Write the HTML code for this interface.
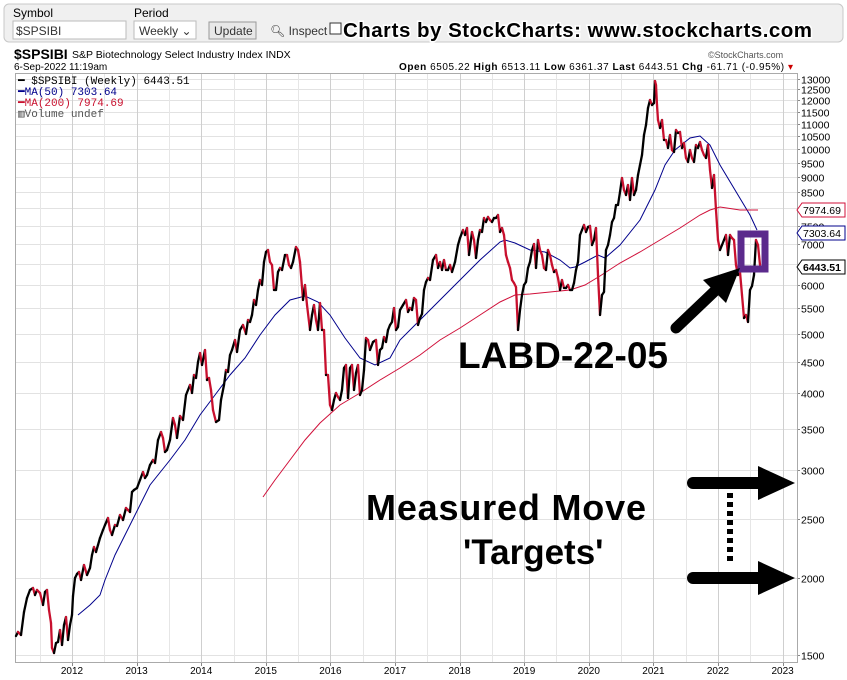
<!DOCTYPE html>
<html><head><meta charset="utf-8"><style>
body{margin:0;width:847px;height:680px;overflow:hidden;background:#fff;font-family:"Liberation Sans",sans-serif;}
svg{position:absolute;left:0;top:0}
</style></head><body>
<svg id="s" width="847" height="680" xmlns="http://www.w3.org/2000/svg" font-family="Liberation Sans, sans-serif">
<rect x="4" y="4" width="839" height="38" rx="5" fill="#f0f0f0" stroke="#c8c8c8"/>
<text x="13" y="17" font-size="12">Symbol</text>
<rect x="13" y="21" width="113" height="18" fill="#fff" stroke="#bbb"/>
<text x="16" y="35" font-size="12" fill="#333">$SPSIBI</text>
<text x="134" y="17" font-size="12">Period</text>
<rect x="134" y="21" width="62" height="18" fill="#fff" stroke="#bbb"/>
<text x="139" y="35" font-size="12" fill="#333">Weekly ⌄</text>
<rect x="209" y="22" width="47" height="17" fill="#e8e8e8" stroke="#999"/>
<text x="214" y="35" font-size="12" fill="#333">Update</text>
<text x="270" y="35" font-size="12" fill="#333">🔍︎ Inspect</text>
<rect x="330" y="23" width="11" height="11" fill="#fff" stroke="#333"/>
<text x="343" y="37" font-size="20.5" font-weight="bold" stroke="#fff" stroke-width="3" paint-order="stroke" textLength="469">Charts by StockCharts:  www.stockcharts.com</text>
<text x="14" y="59" font-size="14" font-weight="bold">$SPSIBI</text>
<text x="72" y="58" font-size="10.5">S&amp;P Biotechnology Select Industry Index  INDX</text>
<text x="14" y="70" font-size="10">6-Sep-2022 11:19am</text>
<text x="708" y="58" font-size="9" fill="#555">©StockCharts.com</text>
<text x="399" y="70" font-size="10" textLength="394"><tspan font-weight="bold">Open</tspan> 6505.22 <tspan font-weight="bold">High</tspan> 6513.11 <tspan font-weight="bold">Low</tspan> 6361.37 <tspan font-weight="bold">Last</tspan> 6443.51 <tspan font-weight="bold">Chg</tspan> -61.71 (-0.95%) <tspan fill="#c00">▾</tspan></text>
<g id="grid"></g>
<rect x="15.5" y="73.5" width="782" height="589" fill="none" stroke="#aaa"/>
<g id="series"></g>
<text x="18" y="84" font-size="11" font-family="Liberation Mono, monospace"><tspan font-weight="bold">━</tspan> $SPSIBI (Weekly) 6443.51</text>
<text x="18" y="95" font-size="11" fill="#00008b" font-family="Liberation Mono, monospace">━MA(50) 7303.64</text>
<text x="18" y="106" font-size="11" fill="#c8102e" font-family="Liberation Mono, monospace">━MA(200) 7974.69</text>
<text x="18" y="117" font-size="11" fill="#555" font-family="Liberation Mono, monospace">▥Volume undef</text>
<rect x="741" y="234" width="24" height="35" fill="none" stroke="#5b2a8c" stroke-width="7"/>
<line x1="676" y1="328" x2="718" y2="288" stroke="#000" stroke-width="11" stroke-linecap="round"/>
<polygon points="740,268 703,280 726,303" fill="#000"/>
<text x="458" y="368" font-size="37" font-weight="bold" textLength="210">LABD-22-05</text>
<text x="366" y="520" font-size="36" font-weight="bold" textLength="280">Measured Move</text>
<text x="463" y="564" font-size="35" font-weight="bold">'Targets'</text>
<line x1="693" y1="483" x2="760" y2="483" stroke="#000" stroke-width="12" stroke-linecap="round"/>
<polygon points="758,466 795,483 758,500" fill="#000"/>
<line x1="693" y1="578" x2="760" y2="578" stroke="#000" stroke-width="12" stroke-linecap="round"/>
<polygon points="758,561 795,578 758,595" fill="#000"/>
<line x1="730" y1="493" x2="730" y2="565" stroke="#000" stroke-width="6" stroke-dasharray="5,4"/>
<g id="tags"></g>
</svg>
<script>
var NS="http://www.w3.org/2000/svg",s=document.getElementById('s');
function Y(p){return 79+(4.1139-Math.log10(p))*614;}
function el(g,t,a,txt){var e=document.createElementNS(NS,t);for(var k in a)e.setAttribute(k,a[k]);if(txt!=null)e.textContent=txt;document.getElementById(g).appendChild(e);return e;}
var labs=[13000,12500,12000,11500,11000,10500,10000,9500,9000,8500,8000,7500,7000,6500,6000,5500,5000,4500,4000,3500,3000,2500,2000,1500];
labs.forEach(function(p){var y=Math.round(Y(p))+.5;el('grid','line',{x1:16,x2:797,y1:y,y2:y,stroke:'#e2e2e2'});
 el('grid','line',{x1:797,x2:800,y1:y,y2:y,stroke:'#888'});
 if(p!=8000&&p!=6500)el('grid','text',{x:801,y:y+4,'font-size':10.5},String(p));});
for(var i=-1;i<12;i++){var x=72+i*64.6;
 var h=Math.round(x+32.3)+.5;if(h>16&&h<797)el('grid','line',{x1:h,x2:h,y1:74,y2:662,stroke:'#e6e6e6'});
 var xx=Math.round(x)+.5;if(xx>16&&xx<797){el('grid','line',{x1:xx,x2:xx,y1:74,y2:662,stroke:'#cfcfcf'});}
 if(i>=0){el('grid','text',{x:x,y:674,'font-size':10,'text-anchor':'middle'},String(2012+i));el('grid','line',{x1:xx,x2:xx,y1:662,y2:666,stroke:'#888'});}}
var P=[16,636,18,632,21,635,24,612,27,598,30,590,33,588,35,595,37,590,40,593,43,605,45,592,47,590,49,610,51,623,52,648,54,653,56,643,58,642,60,630,62,645,64,625,66,617,68,640,70,625,72,615,73,596,75,578,77,574,79,572,81,580,84,565,87,575,90,568,92,555,94,547,96,552,98,545,100,538,103,530,105,525,108,518,110,530,112,535,115,525,117,526,120,515,123,520,126,508,128,510,130,512,132,492,134,490,137,488,140,480,143,472,145,478,147,475,150,465,153,460,155,463,158,440,161,432,163,438,165,452,167,450,170,440,173,418,175,425,177,438,180,416,183,420,186,395,190,385,192,393,194,375,196,378,198,362,200,353,202,365,205,350,207,380,209,378,211,390,213,410,216,422,219,420,221,400,224,385,226,370,228,372,230,355,232,350,235,340,237,352,240,330,243,325,246,334,248,320,250,322,252,315,254,300,256,305,258,290,260,280,262,285,264,262,266,252,268,250,270,262,272,265,274,290,276,290,278,272,280,268,282,270,285,255,287,255,289,265,291,268,293,262,296,247,298,250,300,262,303,300,305,285,307,305,310,330,312,315,314,305,316,320,318,330,320,303,322,330,324,330,326,375,328,375,330,405,332,410,334,400,336,393,338,397,340,400,342,390,344,368,346,365,348,398,350,368,352,365,354,390,356,373,358,365,360,395,362,390,364,370,366,338,368,340,370,350,373,342,376,340,378,365,380,350,382,348,384,337,386,342,388,330,390,325,392,322,394,308,396,330,398,327,400,310,403,305,406,300,408,312,410,308,412,310,414,298,416,300,418,325,420,318,422,314,424,290,426,282,428,278,430,280,433,260,436,255,438,268,440,262,442,270,444,260,446,270,448,270,450,265,452,272,455,262,458,245,460,238,463,230,465,235,467,228,469,255,472,232,474,240,476,258,478,240,480,230,482,232,484,218,486,222,488,217,490,220,492,222,494,218,496,218,498,215,500,232,502,228,504,235,506,255,508,262,510,268,512,280,514,283,516,287,518,330,520,310,522,295,524,285,526,282,528,268,530,262,532,250,534,244,536,268,538,240,540,250,542,255,544,268,546,270,548,250,550,255,552,265,554,272,556,270,558,278,560,290,562,280,564,288,566,288,568,285,570,290,572,290,574,283,576,270,578,262,580,235,582,230,584,225,586,232,588,227,590,226,592,245,594,240,596,228,598,275,600,315,602,295,604,292,606,250,608,245,610,235,612,222,614,218,616,205,618,205,620,192,622,178,624,190,626,195,628,185,630,200,632,178,634,195,636,190,638,175,640,165,642,155,644,135,646,125,648,108,650,100,652,105,654,103,655,81,656,85,657,105,658,120,660,128,662,120,664,140,666,140,668,148,670,135,672,150,674,152,676,130,678,133,680,132,682,148,684,143,686,158,688,162,690,150,692,158,694,162,696,145,698,148,700,142,702,150,704,155,706,158,708,145,710,170,712,188,714,175,716,210,718,240,720,250,722,245,724,240,726,235,728,255,730,235,732,238,734,240,736,265,738,275,740,272,742,295,744,318,746,315,748,322,750,290,752,286,754,275,756,240,758,245,760,265];
function poly(a,c,w){var pts=[];for(var i=0;i<a.length;i+=2)pts.push(a[i]+','+a[i+1]);el('series','polyline',{points:pts.join(' '),fill:'none',stroke:c,'stroke-width':w});}
poly([78,615,90,605,100,595,105,580,115,555,130,525,150,485,170,460,185,440,200,415,215,395,230,375,245,358,260,335,275,315,290,300,305,296,318,302,330,315,345,338,360,358,375,365,390,358,400,340,420,320,440,300,460,280,480,260,500,242,505,240,515,243,530,250,545,252,560,260,570,268,575,267,585,262,598,255,605,258,620,245,640,220,655,190,665,165,675,150,690,138,700,136,710,145,720,165,735,190,750,215,757,230],'#00008b',1);
poly([263,497,275,480,290,460,305,440,320,423,340,405,360,393,380,380,400,368,420,355,440,340,460,328,480,315,500,302,515,295,530,294,550,292,570,290,585,285,600,276,620,263,640,252,660,240,680,228,700,215,710,210,720,207,740,210,758,210],'#d0103a',1);
for(var i=0;i+3<P.length;i+=2){el('series','line',{x1:P[i],y1:P[i+1],x2:P[i+2],y2:P[i+3],stroke:P[i+3]<=P[i+1]?'#000':'#c8102e','stroke-width':2.3,'stroke-linecap':'round'});}
function tag(y,t,c,b){el('tags','polygon',{points:'797,'+y+' 802,'+(y-7)+' 845,'+(y-7)+' 845,'+(y+7)+' 802,'+(y+7),fill:'#fff',stroke:c});
 el('tags','text',{x:803,y:y+4,'font-size':10.5,'font-weight':b?'bold':'normal'},t);}
tag(210,'7974.69','#d0103a');tag(233,'7303.64','#00008b');tag(267,'6443.51','#000',1);
</script>
</body></html>
